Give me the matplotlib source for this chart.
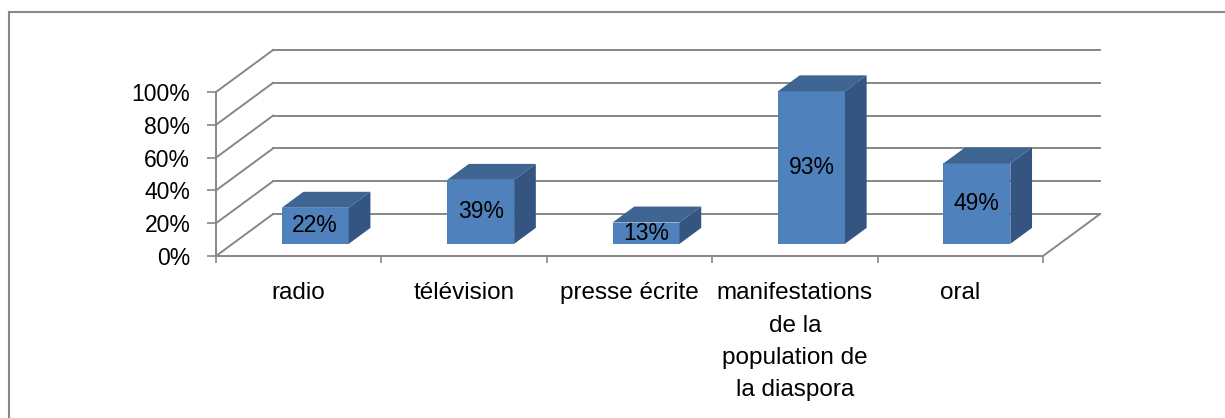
import numpy as np
import matplotlib
matplotlib.use("Agg")
from matplotlib import pyplot as plt
from matplotlib.patches import Polygon, Rectangle
from matplotlib.ticker import PercentFormatter

plt.rcParams['font.family'] = ['Liberation Sans', 'DejaVu Sans']

categories = ['radio', 'télévision', 'presse écrite',
              'manifestations\nde la\npopulation de\nla diaspora', 'oral']
values = [0.22, 0.39, 0.13, 0.93, 0.49]
labels = ['22%', '39%', '13%', '93%', '49%']

front = '#4f81bd'
top = '#3e6492'
side = '#34557f'
grid = '#878787'

# fake 3d: depth offset of the back wall, in data units
DX = 0.345
DY = 0.256
t0, t1 = 0.29, 0.67   # bar depth range (fraction of depth)
w = 0.405             # bar width in categories

fig = plt.figure(figsize=(12.25, 4.18), dpi=100)
W, H = 1225, 418
ax = fig.add_axes([216 / W, (H - 256) / H, (1043 - 216) / W, 164 / H])
n = len(categories)
ax.set_xlim(0, n)
ax.set_ylim(0, 1)

# walls
for v in np.arange(0, 1.01, 0.2):
    ax.plot([0, DX], [v, v + DY], color=grid, lw=1.4, clip_on=False, zorder=1)
    ax.plot([DX, n + DX], [v + DY, v + DY], color=grid, lw=1.4, clip_on=False, zorder=1)
ax.plot([n, n + DX], [0, DY], color=grid, lw=1.4, clip_on=False, zorder=1)

# bars
for i, v in enumerate(values):
    xl = i + 0.5 - w / 2 + DX * t0
    xr = xl + w
    yb = DY * t0
    yt = yb + v
    ddx = DX * (t1 - t0)
    ddy = DY * (t1 - t0)
    ax.add_patch(Rectangle((xl, yb), w, v, facecolor=front, edgecolor='none',
                           clip_on=False, zorder=3))
    ax.add_patch(Polygon([(xl, yt), (xr, yt), (xr + ddx, yt + ddy), (xl + ddx, yt + ddy)],
                         closed=True, facecolor=top, edgecolor='none', clip_on=False, zorder=3))
    ax.add_patch(Polygon([(xr, yb), (xr, yt), (xr + ddx, yt + ddy), (xr + ddx, yb + ddy)],
                         closed=True, facecolor=side, edgecolor='none', clip_on=False, zorder=3))
    ax.text((xl + xr) / 2, yb + v / 2, labels[i], ha='center', va='center',
            fontsize=16.5, color='black', zorder=4)

for s in ['top', 'right']:
    ax.spines[s].set_visible(False)
for s in ['left', 'bottom']:
    ax.spines[s].set_color(grid)
    ax.spines[s].set_linewidth(1.4)

ax.set_yticks(np.arange(0, 1.01, 0.2))
ax.yaxis.set_major_formatter(PercentFormatter(1.0, decimals=0))
ax.tick_params(axis='y', direction='out', length=6.5, width=1.2, color=grid,
               labelsize=16.5, pad=12)
ax.set_xticks(np.arange(0, n + 1))
ax.set_xticklabels([])
ax.set_xticks(np.arange(n) + 0.5, minor=True)
ax.set_xticklabels(categories, minor=True, fontsize=17.5, linespacing=1.6)
ax.tick_params(axis='x', which='minor', length=0, pad=19)
ax.tick_params(axis='x', which='major', direction='out', length=5, width=1.2, color=grid)
ax.patch.set_visible(False)

# chart border
fig.add_artist(plt.Line2D([8.5 / W, 8.5 / W], [0, 1 - 12 / H], transform=fig.transFigure,
                          color='#888888', lw=1.5))
fig.add_artist(plt.Line2D([8.5 / W, 1], [1 - 12 / H, 1 - 12 / H], transform=fig.transFigure,
                          color='#888888', lw=1.5))

fig.savefig('out.png', dpi=100)
